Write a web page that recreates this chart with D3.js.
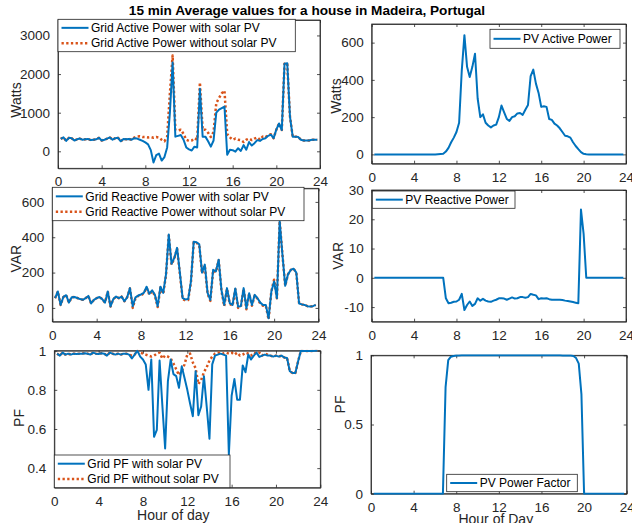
<!DOCTYPE html>
<html>
<head>
<meta charset="utf-8">
<script src="https://cdn.jsdelivr.net/npm/d3@7"></script>
<style>
  body { margin: 0; background: #fff; }
  svg { font-family: "Liberation Sans", Arial, Helvetica, sans-serif; background: #fff; }
  .axis { font-family: "Liberation Sans", Arial, Helvetica, sans-serif; }
  .axis text { font-size: 13.5px; fill: #262626; }
  .axis path, .axis line { stroke: #262626; stroke-width: 0.8; }
  .legend text { font-size: 12px; fill: #000; }
</style>
</head>
<body>
<svg id="chart" width="632" height="523"></svg>
<script>
// 15 min time stamps, hour of day
var hours = [
  0.25,0.5,0.75,1,1.25,1.5,1.75,2,
  2.25,2.5,2.75,3,3.25,3.5,3.75,4,
  4.25,4.5,4.75,5,5.25,5.5,5.75,6,
  6.25,6.5,6.75,7,7.25,7.5,7.75,8,
  8.25,8.5,8.75,9,9.25,9.5,9.75,10,
  10.25,10.5,10.75,11,11.25,11.5,11.75,12,
  12.25,12.5,12.75,13,13.25,13.5,13.75,14,
  14.25,14.5,14.75,15,15.25,15.5,15.75,16,
  16.25,16.5,16.75,17,17.25,17.5,17.75,18,
  18.25,18.5,18.75,19,19.25,19.5,19.75,20,
  20.25,20.5,20.75,21,21.25,21.5,21.75,22,
  22.25,22.5,22.75,23,23.25,23.5,23.75
];

// grid active power (W)
var gridActiveWith = [
  320,360,270,350,340,280,310,330,
  300,310,320,290,300,310,350,280,
  300,330,360,300,340,350,260,320,
  310,320,300,340,330,300,270,230,
  180,30,-290,-100,-60,-240,-150,100,
  1000,2300,380,400,420,300,100,50,
  20,120,100,1620,380,380,260,120,
  280,1000,1080,1120,1160,-90,40,30,
  -10,80,10,160,40,240,150,210,
  290,270,320,340,400,430,340,560,
  720,550,2270,2280,900,380,380,370,
  300,280,280,280,300,300,300
];
var gridActiveWithout = [
  320,360,270,350,340,280,310,330,
  300,310,320,290,300,310,350,280,
  300,330,360,300,340,350,260,320,
  310,320,300,360,380,390,370,370,
  360,370,350,370,355,300,260,380,
  1500,2480,560,540,560,450,300,270,
  280,340,300,1780,560,560,480,370,
  500,1250,1380,1500,1570,450,360,300,
  330,300,290,240,300,330,290,330,
  360,300,380,360,420,440,340,560,
  720,550,2270,2280,900,380,380,370,
  300,280,280,280,300,300,300
];

// pv active power (W)
var pvActive = [
  0,0,0,0,0,0,0,0,
  0,0,0,0,0,0,0,0,
  0,0,0,0,0,0,0,0,
  1,2,3,15,35,65,90,120,
  170,450,640,470,415,470,540,300,
  200,215,170,155,145,155,160,200,
  262,225,190,180,200,205,220,222,
  212,240,265,420,455,380,330,255,
  258,255,190,185,165,155,140,120,
  100,97,90,65,45,28,12,3,
  1,0,0,0,0,0,0,0,
  0,0,0,0,0,0,0
];

// grid reactive power (VAR)
var gridReactiveWith = [
  55,93,17,62,72,30,60,62,
  56,50,46,55,68,25,45,55,
  62,50,30,93,8,50,64,55,
  64,38,60,112,10,60,70,76,
  85,120,80,100,75,10,120,85,
  190,415,250,283,340,200,55,48,
  50,150,375,372,360,200,245,85,
  45,216,207,273,102,17,112,27,
  17,110,8,10,112,-2,83,17,
  74,55,30,17,17,-59,93,150,
  55,491,300,125,190,215,222,200,
  25,20,17,10,8,10,17
];
var gridReactiveWithout = [
  55,93,17,62,72,30,60,62,
  56,50,46,55,68,25,45,55,
  62,50,30,93,8,50,64,55,
  64,38,60,110,0,55,68,72,
  82,115,75,95,70,5,115,80,
  185,410,245,280,335,195,50,42,
  45,145,372,368,355,195,240,80,
  40,212,203,270,98,10,108,22,
  12,106,0,5,108,-8,80,12,
  70,52,25,12,12,-65,95,160,
  55,491,300,125,190,215,222,200,
  25,20,17,10,8,10,17
];

// pv reactive power (VAR)
var pvReactive = [
  0,0,0,0,0,0,0,0,
  0,0,0,0,0,0,0,0,
  0,0,0,0,0,0,0,0,
  0,0,0,-7,-8.7,-8.5,-8.2,-8.1,
  -7.5,-5.5,-11,-9.3,-8.1,-9.6,-8.9,-7,
  -7.8,-7.2,-7.8,-8.1,-8.2,-7.8,-7.5,-7,
  -7,-7.1,-7.5,-7.1,-6.7,-7.1,-7,-6.6,
  -6.6,-6.8,-6.6,-5.5,-5.8,-6,-7.3,-7,
  -7.1,-7,-7.3,-7.5,-7.5,-7.5,-7.5,-7.6,
  -7.8,-7.9,-8.1,-8.3,-8.5,-8.7,23.3,15,
  0,0,0,0,0,0,0,0,
  0,0,0,0,0,0,0
];

// grid power factor
var gridPFWith = [
  0.985,0.975,0.99,0.98,0.985,0.98,0.985,0.983,
  0.985,0.985,0.987,0.985,0.98,0.99,0.985,0.983,
  0.987,0.985,0.975,0.99,0.985,0.98,0.985,0.98,
  0.985,0.985,0.98,0.96,0.98,1,0.97,0.955,
  0.93,0.8,0.955,0.56,0.595,0.95,0.72,0.5,
  0.845,0.955,0.88,0.87,0.81,0.92,0.86,0.8,
  0.73,0.665,0.895,0.67,0.715,0.87,0.715,0.55,
  0.93,0.975,0.98,0.985,0.98,0.975,0.47,0.77,
  0.855,0.75,0.75,0.925,0.89,0.98,0.955,0.975,
  0.99,0.968,0.975,0.98,0.975,0.975,0.97,0.975,
  0.97,0.975,0.965,0.963,0.895,0.886,0.886,0.946,
  1,0.998,0.998,0.998,0.999,1,1
];
var gridPFWithout = [
  0.985,0.975,0.99,0.98,0.985,0.98,0.985,0.983,
  0.985,0.985,0.987,0.985,0.98,0.99,0.985,0.983,
  0.987,0.985,0.975,0.99,0.985,0.98,0.985,0.98,
  0.985,0.985,0.98,0.975,0.98,1,0.99,0.985,
  0.98,0.975,0.97,0.975,0.985,0.99,0.96,0.975,
  0.97,0.96,0.935,0.905,0.875,0.895,0.93,0.98,
  0.985,0.94,0.91,0.83,0.85,0.89,0.915,0.95,
  0.97,0.985,0.99,0.99,0.985,0.99,0.985,0.99,
  0.98,0.99,0.975,0.98,0.99,0.985,0.975,0.99,
  0.985,0.99,0.975,0.985,0.98,0.975,0.97,0.975,
  0.97,0.975,0.965,0.963,0.895,0.886,0.886,0.946,
  1,0.998,0.998,0.998,0.999,1,1
];

// pv power factor
var pvPF = [
  0,0,0,0,0,0,0,0,
  0,0,0,0,0,0,0,0,
  0,0,0,0,0,0,0,0,
  0,0,0,0.77,0.965,0.99,0.995,0.998,
  0.999,1,1,1,1,1,1,1,
  1,1,1,1,1,1,1,1,
  1,1,1,1,1,1,1,1,
  1,1,1,1,1,1,1,1,
  1,1,1,1,1,1,1,0.999,
  0.999,0.999,0.998,0.995,0.98,0.94,0.72,0,
  0,0,0,0,0,0,0,0,
  0,0,0,0,0,0,0
];

var hourTicks = [0, 4, 8, 12, 16, 20, 24];

var blue = '#0072BD',
    orange = '#D95319',
    ink = '#262626';

var svg = d3.select('#chart');

// subplot layout: [left, right, top, bottom]
var panels = [
  { box: [58, 320, 20, 168.3], yDomain: [-440, 3400], yTicks: [0, 1000, 2000, 3000],
    yLabel: 'Watts', yLabelAt: [21, 100],
    series: [
      { values: gridActiveWith, name: 'Grid Active Power with solar PV', color: blue },
      { values: gridActiveWithout, name: 'Grid Active Power without solar PV', color: orange, dotted: true }
    ],
    legend: [58, 19.3, 237.3, 32.4] },
  { box: [371.7, 626, 24, 163.7], yDomain: [-50, 700], yTicks: [0, 200, 400, 600],
    yLabel: 'Watts', yLabelAt: [341, 96],
    series: [ { values: pvActive, name: 'PV Active Power', color: blue } ],
    legend: [490, 29.3, 130, 19] },
  { box: [52.3, 318.5, 188.3, 321.7], yDomain: [-78, 677], yTicks: [0, 200, 400, 600],
    yLabel: 'VAR', yLabelAt: [20.5, 258.7],
    series: [
      { values: gridReactiveWith, name: 'Grid Reactive Power with solar PV', color: blue },
      { values: gridReactiveWithout, name: 'Grid Reactive Power without solar PV', color: orange, dotted: true }
    ],
    legend: [52.3, 187.3, 251.7, 33.4] },
  { box: [371.7, 626, 190, 321.7], yDomain: [-15, 30], yTicks: [-10, 0, 10, 20, 30],
    yLabel: 'VAR', yLabelAt: [343, 255.8],
    series: [ { values: pvReactive, name: 'PV Reactive Power', color: blue } ],
    legend: [372.3, 191, 142.7, 17.3] },
  { box: [54.3, 320.3, 350.7, 487.7], yDomain: [0.3, 1], yTicks: [0.4, 0.6, 0.8, 1],
    yLabel: 'PF', yLabelAt: [24, 418],
    xLabel: 'Hour of day', xLabelAt: [173.3, 520],
    series: [
      { values: gridPFWith, name: 'Grid PF with solar PV', color: blue },
      { values: gridPFWithout, name: 'Grid PF without solar PV', color: orange, dotted: true }
    ],
    legend: [54.3, 455, 175.7, 32.7] },
  { box: [371, 626.7, 355.3, 493.7], yDomain: [0, 1], yTicks: [0, 0.5, 1],
    yLabel: 'PF', yLabelAt: [345, 404.5],
    xLabel: 'Hour of Day', xLabelAt: [495.8, 523.5],
    series: [ { values: pvPF, name: 'PV Power Factor', color: blue } ],
    legend: [446.7, 474.3, 130.6, 17.4] }
];

function styleLine(sel, s) {
  sel.attr('fill', 'none')
    .attr('stroke', s.color)
    .attr('stroke-width', s.dotted ? 2.5 : 2)
    .attr('stroke-linejoin', 'round')
    .attr('stroke-dasharray', s.dotted ? '2.3,2.4' : null);
}

panels.forEach(function (p, k) {
  var left = p.box[0], right = p.box[1], top = p.box[2], bottom = p.box[3];

  var x = d3.scaleLinear().domain([0, 24]).range([left, right]),
      y = d3.scaleLinear().domain(p.yDomain).range([bottom, top]);

  var g = svg.append('g');

  svg.append('clipPath').attr('id', 'clip' + k)
    .append('rect')
    .attr('x', left).attr('y', top - 1)
    .attr('width', right - left).attr('height', bottom - top + 2);

  // axes with inward ticks, mirrored on top/right
  g.append('g').attr('class', 'axis')
    .attr('transform', 'translate(0,' + bottom + ')')
    .call(d3.axisBottom(x).tickValues(hourTicks).tickSizeInner(-3).tickSizeOuter(0).tickPadding(8.5)
      .tickFormat(function (d) { return String(d); }));
  g.append('g').attr('class', 'axis')
    .attr('transform', 'translate(0,' + top + ')')
    .call(d3.axisTop(x).tickValues(hourTicks).tickSizeInner(-3).tickSizeOuter(0).tickFormat(''));
  g.append('g').attr('class', 'axis')
    .attr('transform', 'translate(' + left + ',0)')
    .call(d3.axisLeft(y).tickValues(p.yTicks).tickSizeInner(-3).tickSizeOuter(0).tickPadding(8)
      .tickFormat(function (d) { return String(d); }));
  g.append('g').attr('class', 'axis')
    .attr('transform', 'translate(' + right + ',0)')
    .call(d3.axisRight(y).tickValues(p.yTicks).tickSizeInner(-3).tickSizeOuter(0).tickFormat(''));

  g.append('rect')
    .attr('x', left).attr('y', top)
    .attr('width', right - left).attr('height', bottom - top)
    .attr('fill', 'none')
    .attr('stroke', ink)
    .attr('stroke-width', 0.8);

  // lines: dotted series underneath the solid one
  var line = d3.line()
    .x(function (d, i) { return x(hours[i]); })
    .y(function (d) { return y(d); });

  p.series.slice().reverse().forEach(function (s) {
    g.append('path')
      .datum(s.values)
      .attr('clip-path', 'url(#clip' + k + ')')
      .attr('d', line)
      .call(styleLine, s);
  });

  // axis labels
  g.append('text')
    .attr('transform', 'translate(' + p.yLabelAt[0] + ',' + p.yLabelAt[1] + ') rotate(-90)')
    .attr('text-anchor', 'middle')
    .attr('font-size', 14)
    .attr('fill', ink)
    .text(p.yLabel);

  if (p.xLabel) {
    g.append('text')
      .attr('x', p.xLabelAt[0]).attr('y', p.xLabelAt[1])
      .attr('text-anchor', 'middle')
      .attr('font-size', 14)
      .attr('fill', ink)
      .text(p.xLabel);
  }

  // legend
  var lx = p.legend[0], ly = p.legend[1], lw = p.legend[2], lh = p.legend[3];
  var lg = g.append('g').attr('class', 'legend');
  lg.append('rect')
    .attr('x', lx).attr('y', ly)
    .attr('width', lw).attr('height', lh)
    .attr('fill', '#fff')
    .attr('stroke', ink)
    .attr('stroke-width', 0.8);

  var n = p.series.length;
  p.series.forEach(function (s, i) {
    var ry = ly + lh / 2 + (i - (n - 1) / 2) * 15.3;
    lg.append('line')
      .attr('x1', lx + 3.5).attr('x2', lx + 30.5)
      .attr('y1', ry).attr('y2', ry)
      .call(styleLine, s);
    lg.append('text')
      .attr('x', lx + 33)
      .attr('y', ry)
      .attr('dy', '0.35em')
      .text(s.name);
  });
});

// title
svg.append('text')
  .attr('x', 307).attr('y', 15)
  .attr('text-anchor', 'middle')
  .attr('font-size', 13.6)
  .attr('font-weight', 'bold')
  .attr('fill', '#000')
  .text('15 min Average values for a house in Madeira, Portugal');
</script>
</body>
</html>
